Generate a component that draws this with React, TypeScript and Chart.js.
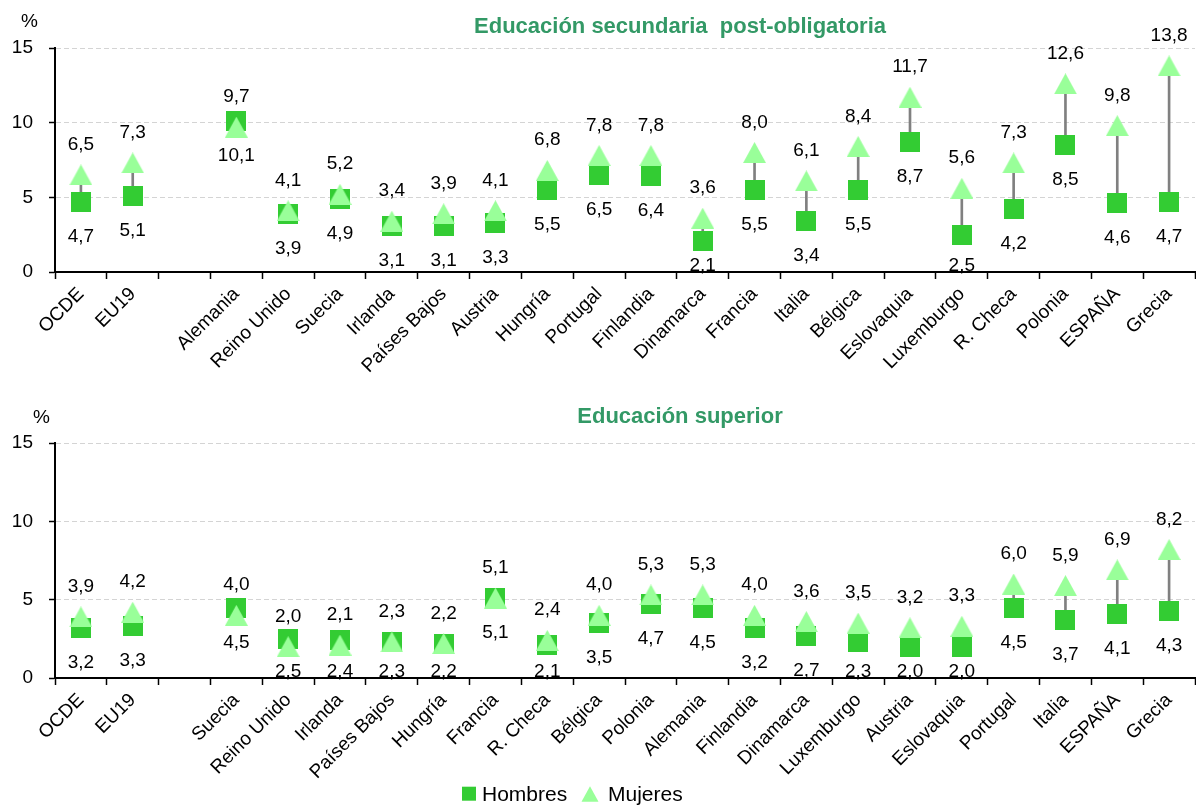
import React, { useEffect, useRef } from "react";
import { Chart, registerables } from "chart.js";

Chart.register(...registerables);

const FONT = '"Liberation Sans", Arial, Helvetica, sans-serif';

// ---- Data: Educación secundaria post-obligatoria ----
const categoriesSecundaria = [
  "OCDE", "EU19", "", "Alemania", "Reino Unido", "Suecia", "Irlanda", "Países Bajos",
  "Austria", "Hungría", "Portugal", "Finlandia", "Dinamarca", "Francia", "Italia",
  "Bélgica", "Eslovaquia", "Luxemburgo", "R. Checa", "Polonia", "ESPAÑA", "Grecia",
];
const hombresSecundaria = [
  4.7, 5.1, null, 10.1, 3.9, 4.9, 3.1, 3.1, 3.3, 5.5, 6.5, 6.4, 2.1, 5.5, 3.4, 5.5, 8.7, 2.5, 4.2, 8.5, 4.6, 4.7,
];
const mujeresSecundaria = [
  6.5, 7.3, null, 9.7, 4.1, 5.2, 3.4, 3.9, 4.1, 6.8, 7.8, 7.8, 3.6, 8.0, 6.1, 8.4, 11.7, 5.6, 7.3, 12.6, 9.8, 13.8,
];

// ---- Data: Educación superior ----
const categoriesSuperior = [
  "OCDE", "EU19", "", "Suecia", "Reino Unido", "Irlanda", "Países Bajos", "Hungría",
  "Francia", "R. Checa", "Bélgica", "Polonia", "Alemania", "Finlandia", "Dinamarca",
  "Luxemburgo", "Austria", "Eslovaquia", "Portugal", "Italia", "ESPAÑA", "Grecia",
];
const hombresSuperior = [
  3.2, 3.3, null, 4.5, 2.5, 2.4, 2.3, 2.2, 5.1, 2.1, 3.5, 4.7, 4.5, 3.2, 2.7, 2.3, 2.0, 2.0, 4.5, 3.7, 4.1, 4.3,
];
const mujeresSuperior = [
  3.9, 4.2, null, 4.0, 2.0, 2.1, 2.3, 2.2, 5.1, 2.4, 4.0, 5.3, 5.3, 4.0, 3.6, 3.5, 3.2, 3.3, 6.0, 5.9, 6.9, 8.2,
];

const yMin = 0;
const yMax = 15;
const yStep = 5;
const legendLabels = ["Hombres", "Mujeres"];

const COLOR_H = "#33CC33";
const COLOR_M = "#99FF99";
const COLOR_TITLE = "#339966";

const fmt = (v: number) => v.toFixed(1).replace(".", ",");

function makeSquare(w: number, h: number, color: string) {
  const c = document.createElement("canvas");
  c.width = w;
  c.height = h;
  const g = c.getContext("2d")!;
  g.fillStyle = color;
  g.fillRect(0, 0, w, h);
  return c;
}

function makeTriangle(w: number, h: number, color: string) {
  const c = document.createElement("canvas");
  c.width = w;
  c.height = h;
  const g = c.getContext("2d")!;
  g.fillStyle = color;
  g.beginPath();
  g.moveTo(w / 2, 0);
  g.lineTo(w, h);
  g.lineTo(0, h);
  g.closePath();
  g.fill();
  return c;
}

type PanelProps = {
  title: string;
  categories: string[];
  hombres: (number | null)[];
  mujeres: (number | null)[];
  width: number;
  height: number;
  plotTop: number;
  plotBottom: number;
  titleBaseline: number;
  pctX: number;
  pctBaseline: number;
  showLegend: boolean;
};

function Panel(props: PanelProps) {
  const ref = useRef<HTMLCanvasElement>(null);

  useEffect(() => {
    const canvas = ref.current!;
    const sq = makeSquare(20, 20, COLOR_H);
    const tri = makeTriangle(23, 21, COLOR_M);
    const { categories, hombres, mujeres } = props;
    const connector = hombres.map((h, i) => {
      const m = mujeres[i];
      return h == null || m == null ? null : [Math.min(h, m), Math.max(h, m)];
    });

    const annot = {
      id: "annot",
      afterDatasetsDraw(chart: any) {
        const { ctx } = chart;
        const x = chart.scales.x;
        const y = chart.scales.y;
        const bottomLimit = chart.chartArea.bottom - 1.5;
        ctx.save();
        ctx.font = `19px ${FONT}`;
        ctx.fillStyle = "#000";
        ctx.textAlign = "center";
        ctx.textBaseline = "alphabetic";
        categories.forEach((_c, i) => {
          const h = hombres[i];
          const m = mujeres[i];
          if (h == null || m == null) return;
          const px = x.getPixelForValue(i);
          ctx.fillText(fmt(m), px, y.getPixelForValue(m) - 25);
          ctx.fillText(fmt(h), px, Math.min(y.getPixelForValue(h) + 40, bottomLimit));
        });
        ctx.restore();
      },
      afterDraw(chart: any) {
        const { ctx } = chart;
        ctx.save();
        ctx.fillStyle = COLOR_TITLE;
        ctx.font = `bold 22px ${FONT}`;
        ctx.textAlign = "center";
        ctx.textBaseline = "alphabetic";
        ctx.fillText(props.title, 680, props.titleBaseline);
        ctx.fillStyle = "#000";
        ctx.font = `19px ${FONT}`;
        ctx.textAlign = "left";
        ctx.fillText("%", props.pctX, props.pctBaseline);
        if (props.showLegend) {
          const base = props.height - 4.3;
          ctx.font = `21px ${FONT}`;
          ctx.fillStyle = COLOR_H;
          ctx.fillRect(462, base - 14, 14, 14);
          ctx.fillStyle = "#000";
          ctx.fillText(legendLabels[0], 482, base);
          ctx.fillStyle = COLOR_M;
          ctx.beginPath();
          ctx.moveTo(590, base - 14.5);
          ctx.lineTo(598.5, base + 1);
          ctx.lineTo(581.5, base + 1);
          ctx.closePath();
          ctx.fill();
          ctx.fillStyle = "#000";
          ctx.fillText(legendLabels[1], 608, base);
        }
        ctx.restore();
      },
    };

    const chart = new Chart(canvas, {
      type: "line",
      data: {
        labels: categories,
        datasets: [
          {
            type: "line",
            label: legendLabels[0],
            data: hombres as any,
            showLine: false,
            pointStyle: sq as any,
            pointRadius: 10,
            pointHoverRadius: 10,
            order: 2,
          },
          {
            type: "line",
            label: legendLabels[1],
            data: mujeres as any,
            showLine: false,
            pointStyle: tri as any,
            pointRadius: 10,
            pointHoverRadius: 10,
            order: 1,
          },
          {
            type: "bar",
            label: "rango",
            data: connector as any,
            backgroundColor: "#808080",
            barThickness: 2,
            borderWidth: 0,
            grouped: false,
            order: 3,
          } as any,
        ],
      },
      options: {
        responsive: false,
        animation: false,
        events: [],
        layout: { autoPadding: false, padding: { top: props.plotTop, right: 1, left: 0, bottom: 0 } },
        plugins: {
          legend: { display: false },
          tooltip: { enabled: false },
          title: { display: false },
        },
        scales: {
          x: {
            type: "category",
            offset: true,
            grid: {
              display: true,
              drawOnChartArea: false,
              drawTicks: true,
              tickLength: 7,
              offset: true,
              color: "#000",
              tickColor: "#000",
              tickWidth: 1.5,
            },
            border: { display: true, color: "#000", width: 2 },
            ticks: {
              autoSkip: false,
              maxRotation: 45,
              minRotation: 45,
              padding: 4,
              color: "#000",
              font: { family: FONT, size: 19 },
            },
            afterFit: (s: any) => {
              s.height = props.height - props.plotBottom;
              s.paddingLeft = 0;
              s.paddingRight = 0;
            },
          },
          y: {
            type: "linear",
            min: yMin,
            max: yMax,
            ticks: {
              stepSize: yStep,
              padding: 16,
              color: "#000",
              font: { family: FONT, size: 19 },
            },
            grid: {
              color: (c: any) => (c.tick && c.tick.value === 0 ? "rgba(0,0,0,0)" : "#d4d4d4"),
              tickColor: "#000",
              tickLength: 6,
              tickWidth: 1.5,
              lineWidth: 1,
            },
            border: { display: true, color: "#000", width: 2, dash: [5, 3] },
            afterFit: (s: any) => {
              s.width = 55;
              s.paddingTop = 0;
              s.paddingBottom = 0;
            },
          },
        },
      } as any,
      plugins: [annot],
    });
    return () => chart.destroy();
  }, []);

  return (
    <canvas
      ref={ref}
      width={props.width}
      height={props.height}
      style={{ display: "block", width: props.width, height: props.height }}
    />
  );
}

export default function App() {
  useEffect(() => {
    document.body.style.margin = "0";
  }, []);
  return (
    <div style={{ position: "absolute", left: 0, top: 0, width: 1196, height: 805, background: "#fff" }}>
      <Panel
        title="Educación secundaria  post-obligatoria"
        categories={categoriesSecundaria}
        hombres={hombresSecundaria}
        mujeres={mujeresSecundaria}
        width={1196}
        height={395}
        plotTop={48}
        plotBottom={272}
        titleBaseline={33}
        pctX={21}
        pctBaseline={27}
        showLegend={false}
      />
      <Panel
        title="Educación superior"
        categories={categoriesSuperior}
        hombres={hombresSuperior}
        mujeres={mujeresSuperior}
        width={1196}
        height={410}
        plotTop={48}
        plotBottom={283}
        titleBaseline={28}
        pctX={33}
        pctBaseline={28}
        showLegend={true}
      />
    </div>
  );
}
